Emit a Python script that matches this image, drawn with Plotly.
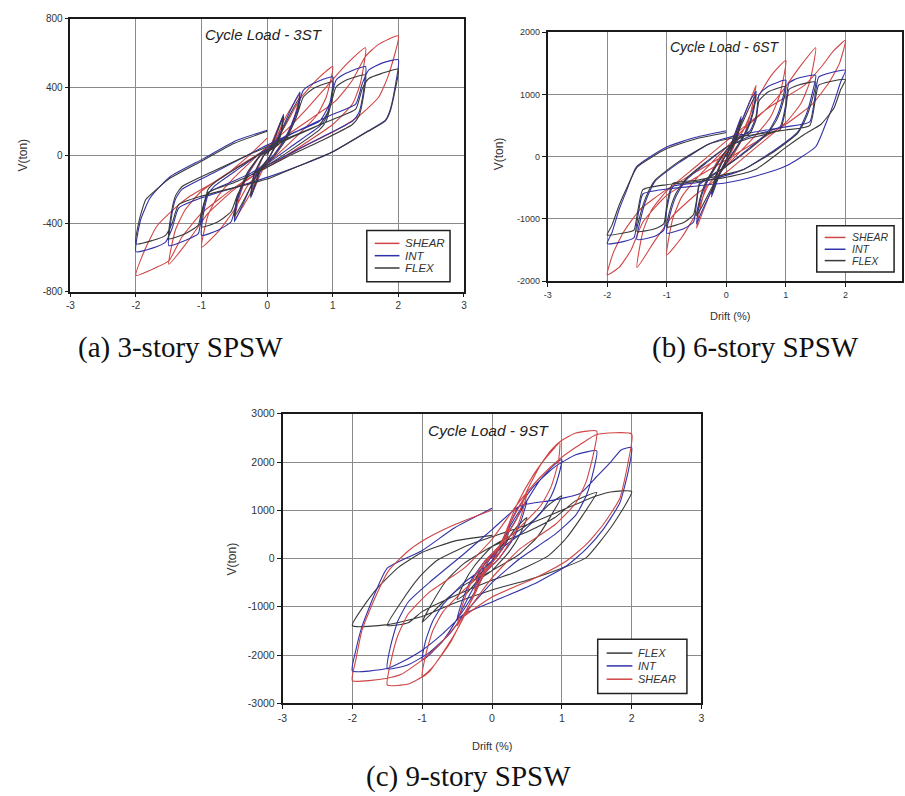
import plotly.graph_objects as go

# ---------------- data (drift %, V ton) ----------------
SHEAR_3ST = [(0,0),(0.1,100),(0.25,230),(0.18,120),(0.05,0),(-0.1,-110),(-0.25,-240),(-0.18,-120),(-0.05,0),
 (0.1,70),(0.25,200),(0.4,300),(0.5,360),(0.42,230),(0.3,120),(0.1,0),(-0.1,-90),(-0.25,-220),(-0.4,-320),(-0.5,-380),(-0.42,-240),(-0.3,-120),(-0.1,0),
 (0.1,70),(0.3,190),(0.5,330),(0.75,440),(1.0,520),(0.9,340),(0.75,230),(0.5,130),(0.2,20),(0,-50),(-0.3,-180),(-0.5,-320),(-0.75,-450),(-1.0,-540),(-0.9,-350),(-0.75,-240),(-0.5,-130),(-0.2,-20),(0,50),
 (0.3,150),(0.6,270),(0.9,400),(1.2,530),(1.5,630),(1.42,420),(1.3,300),(1.0,180),(0.5,50),(0,-70),(-0.5,-200),(-0.9,-340),(-1.2,-500),(-1.5,-640),(-1.4,-440),(-1.25,-320),(-1.0,-210),(-0.5,-80),(0,40),
 (0.5,170),(1.04,317),(1.3,440),(1.5,580),(1.7,650),(2.0,700),(1.85,470),(1.7,340),(1.4,230),(1.04,143),(0.54,47),(0,-70),(-0.5,-190),(-1.0,-340),(-1.3,-480),(-1.5,-620),(-1.7,-660),(-2.0,-705),
 (-1.86,-550),(-1.68,-415),(-1.43,-319),(-1.18,-241),(-0.67,-126),(-0.3,-10),(0,100)]
INT_3ST = [(0,0),(0.1,90),(0.25,240),(0.2,120),(0.05,0),(-0.1,-90),(-0.25,-250),(-0.2,-120),(-0.05,0),
 (0.1,60),(0.2,130),(0.35,260),(0.5,370),(0.45,250),(0.3,110),(0.1,0),(-0.1,-70),(-0.2,-140),(-0.35,-270),(-0.5,-390),(-0.45,-260),(-0.3,-110),(-0.1,0),
 (0.1,50),(0.3,120),(0.45,260),(0.55,380),(0.7,420),(1.0,460),(0.97,330),(0.9,220),(0.8,170),(0.4,60),(0,-50),(-0.3,-120),(-0.45,-250),(-0.55,-390),(-0.75,-440),(-1.0,-470),
 (-0.97,-340),(-0.9,-230),(-0.8,-180),(-0.4,-70),(0,40),
 (0.4,130),(0.8,200),(0.95,300),(1.05,440),(1.2,480),(1.5,520),(1.47,380),(1.4,250),(1.3,200),(0.8,100),(0.3,0),(0,-60),(-0.5,-150),(-0.9,-220),(-1.0,-350),(-1.05,-460),(-1.25,-500),(-1.5,-530),
 (-1.47,-390),(-1.4,-260),(-1.3,-200),(-0.8,-100),(-0.3,0),(0,60),
 (0.5,150),(1.0,240),(1.35,300),(1.45,420),(1.55,500),(1.75,540),(2.0,560),(1.95,400),(1.87,260),(1.8,205),(1.54,143),(0.99,18),(0.5,-60),(0,-130),(-0.5,-190),(-1.0,-250),(-1.35,-310),(-1.45,-430),(-1.55,-510),(-1.75,-545),(-2.0,-565),
 (-1.93,-380),(-1.8,-260),(-1.73,-222),(-1.48,-126),(-0.97,-20),(-0.47,86),(0,147)]
FLEX_3ST = [(0,0),(0.1,80),(0.25,230),(0.2,110),(0.05,0),(-0.1,-80),(-0.25,-240),(-0.2,-110),(-0.05,0),
 (0.1,50),(0.2,120),(0.35,240),(0.5,340),(0.45,230),(0.3,100),(0.1,-10),(-0.1,-80),(-0.2,-150),(-0.35,-260),(-0.5,-360),(-0.45,-240),(-0.3,-100),(-0.1,0),
 (0.1,40),(0.3,110),(0.45,230),(0.55,340),(0.7,390),(1.0,430),(0.97,300),(0.9,200),(0.8,150),(0.4,40),(0,-60),(-0.3,-130),(-0.45,-230),(-0.55,-330),(-0.75,-390),(-1.0,-420),
 (-0.97,-300),(-0.9,-200),(-0.8,-160),(-0.4,-60),(0,30),
 (0.4,110),(0.8,180),(0.95,270),(1.05,400),(1.2,440),(1.5,470),(1.47,350),(1.4,230),(1.3,180),(0.8,80),(0.3,-10),(0,-70),(-0.5,-160),(-0.9,-220),(-1.0,-330),(-1.05,-410),(-1.25,-460),(-1.5,-490),
 (-1.47,-360),(-1.4,-240),(-1.3,-185),(-0.8,-90),(-0.3,0),(0,50),
 (0.5,130),(1.0,210),(1.35,270),(1.45,390),(1.55,450),(1.75,480),(2.0,505),(1.95,380),(1.87,250),(1.8,200),(1.54,140),(1.0,20),(0.5,-60),(0,-140),(-0.5,-190),(-1.0,-240),(-1.35,-290),(-1.45,-400),(-1.55,-470),(-1.75,-500),(-2.0,-520),
 (-1.95,-380),(-1.85,-260),(-1.7,-205),(-1.5,-140),(-1.0,-35),(-0.5,70),(0,140)]

SHEAR_6ST = [(0,0),(0.1,250),(0.25,600),(0.18,300),(0.05,0),(-0.1,-250),(-0.25,-600),(-0.18,-300),(-0.05,0),
 (0.1,200),(0.25,550),(0.4,900),(0.5,1150),(0.42,750),(0.3,350),(0.1,0),(-0.1,-250),(-0.25,-550),(-0.4,-900),(-0.5,-1150),(-0.42,-750),(-0.3,-350),(-0.1,0),
 (0.1,150),(0.3,450),(0.5,900),(0.75,1300),(1.0,1550),(0.9,1000),(0.75,650),(0.5,350),(0.2,50),(0,-150),(-0.3,-450),(-0.5,-900),(-0.75,-1300),(-1.0,-1580),(-0.9,-1000),(-0.75,-650),(-0.5,-350),(-0.2,-50),(0,150),
 (0.3,450),(0.6,700),(0.9,1000),(1.2,1400),(1.5,1750),(1.4,1200),(1.25,850),(1.0,550),(0.5,150),(0,-250),(-0.5,-600),(-0.9,-950),(-1.2,-1350),(-1.5,-1780),(-1.4,-1200),(-1.25,-850),(-1.0,-550),(-0.5,-150),(0,250),
 (0.71,787),(1.32,1156),(1.6,1450),(1.8,1700),(2.0,1870),(1.9,1500),(1.73,1200),(1.45,850),(1.01,530),(0.46,217),(0,-50),(-0.5,-330),(-1.0,-620),(-1.4,-1050),(-1.6,-1500),(-1.8,-1780),(-2.0,-1900),
 (-1.9,-1550),(-1.73,-1219),(-1.45,-850),(-1.01,-534),(-0.46,-217),(0,40)]
INT_6ST = [(0,0),(0.1,250),(0.25,650),(0.18,350),(0.05,50),(-0.1,-250),(-0.25,-650),(-0.18,-350),(-0.05,-50),
 (0.1,200),(0.25,550),(0.4,900),(0.5,1050),(0.45,750),(0.35,450),(0.2,200),(0,-100),(-0.15,-350),(-0.3,-650),(-0.42,-900),(-0.5,-1080),(-0.45,-750),(-0.35,-450),(-0.2,-200),(0,100),
 (0.2,300),(0.4,420),(0.5,650),(0.55,1000),(0.7,1130),(1.0,1230),(0.95,950),(0.85,650),(0.7,400),(0.4,150),(0,-150),(-0.3,-350),(-0.45,-450),(-0.5,-750),(-0.55,-1050),(-0.7,-1150),(-1.0,-1230),
 (-0.95,-950),(-0.85,-650),(-0.7,-400),(-0.4,-150),(0,150),(0.4,330),
 (0.9,480),(1.0,850),(1.05,1180),(1.2,1260),(1.5,1310),(1.45,1050),(1.35,700),(1.2,400),(0.8,100),(0.3,-200),(0,-300),(-0.5,-420),(-0.9,-480),(-1.0,-850),(-1.05,-1180),(-1.2,-1280),(-1.5,-1330),
 (-1.45,-1050),(-1.35,-700),(-1.2,-400),(-0.8,-100),(-0.3,200),(0,300),(0.5,400),(1.0,480),(1.4,560),
 (1.5,1050),(1.55,1280),(1.75,1350),(2.0,1390),(1.92,1200),(1.8,850),(1.67,530),(1.5,160),(1.0,-150),(0.5,-310),(0,-420),(-0.5,-470),(-1.0,-520),(-1.4,-600),(-1.5,-1050),(-1.55,-1300),(-1.75,-1370),(-2.0,-1400),
 (-1.92,-1219),(-1.8,-850),(-1.67,-533),(-1.51,-163),(-1.01,153),(-0.51,312),(0,417)]
FLEX_6ST = [(0,0),(0.1,230),(0.25,600),(0.18,320),(0.05,40),(-0.1,-230),(-0.25,-600),(-0.18,-320),(-0.05,-40),
 (0.1,180),(0.25,500),(0.4,820),(0.5,1000),(0.45,700),(0.35,420),(0.2,180),(0,-100),(-0.15,-330),(-0.3,-600),(-0.42,-820),(-0.5,-950),(-0.45,-700),(-0.35,-420),(-0.2,-180),(0,100),
 (0.2,280),(0.4,380),(0.5,600),(0.55,900),(0.7,1040),(1.0,1130),(0.95,870),(0.85,600),(0.7,380),(0.4,130),(0,-150),(-0.3,-330),(-0.45,-420),(-0.5,-700),(-0.55,-930),(-0.7,-1050),(-1.0,-1130),
 (-0.95,-870),(-0.85,-600),(-0.7,-380),(-0.4,-130),(0,150),(0.4,300),
 (0.9,430),(1.0,780),(1.05,1080),(1.2,1150),(1.5,1200),(1.45,950),(1.35,650),(1.2,380),(0.8,80),(0.3,-200),(0,-280),(-0.5,-380),(-0.9,-430),(-1.0,-780),(-1.05,-1080),(-1.2,-1160),(-1.5,-1200),
 (-1.45,-950),(-1.35,-650),(-1.2,-380),(-0.8,-80),(-0.3,200),(0,280),(0.5,360),(1.0,430),(1.4,500),
 (1.5,950),(1.55,1150),(1.75,1210),(2.0,1240),(1.92,1080),(1.81,787),(1.59,522),(1.32,364),(1.0,150),(0.5,-200),(0,-330),(-0.5,-400),(-1.0,-450),(-1.4,-530),(-1.5,-950),(-1.55,-1180),(-1.75,-1230),(-2.0,-1260),
 (-1.92,-1100),(-1.8,-780),(-1.67,-500),(-1.5,-170),(-1.0,130),(-0.5,290),(0,390)]

FLEX_9ST = [(0,0),(0.1,200),(0.25,450),(0.15,200),(0,-50),(-0.1,-200),(-0.25,-450),(-0.15,-200),(0,50),
 (0.2,350),(0.35,650),(0.5,850),(0.4,500),(0.25,150),(0,-250),(-0.2,-450),(-0.35,-700),(-0.5,-850),(-0.4,-500),(-0.25,-150),(0,250),
 (0.3,500),(0.6,800),(0.8,1100),(1.0,1300),(0.85,900),(0.65,450),(0.4,100),(0,-250),(-0.4,-550),(-0.7,-900),(-1.0,-1320),(-0.85,-900),(-0.65,-450),(-0.4,-100),(0,250),
 (0.5,550),(0.9,850),(1.2,1200),(1.5,1370),(1.3,900),(1.05,400),(0.8,50),(0.3,-300),(0,-450),(-0.5,-750),(-1.0,-1100),(-1.2,-1330),(-1.5,-1385),(-1.3,-900),(-1.05,-400),(-0.8,-50),(-0.3,300),(0,450),
 (0.5,700),(1.0,1000),(1.5,1300),(1.7,1380),(2.0,1390),(1.73,700),(1.35,20),(1.0,-200),(0.5,-450),(0,-650),(-0.5,-900),(-1.0,-1200),(-1.5,-1370),(-2.0,-1390),
 (-1.67,-660),(-1.34,-184),(-1.01,120),(-0.54,361),(0,480)]
INT_9ST = [(0,0),(0.1,250),(0.25,600),(0.18,300),(0.05,0),(-0.1,-250),(-0.25,-600),(-0.18,-300),(-0.05,0),
 (0.1,250),(0.25,650),(0.4,1000),(0.5,1200),(0.42,800),(0.3,400),(0.1,0),(-0.1,-300),(-0.25,-700),(-0.4,-1050),(-0.5,-1250),(-0.42,-850),(-0.3,-450),(-0.1,-50),(0.1,250),
 (0.3,700),(0.5,1200),(0.7,1650),(0.9,1950),(1.0,2050),(0.95,1700),(0.85,1300),(0.7,950),(0.4,500),(0,50),(-0.3,-700),(-0.5,-1250),(-0.7,-1700),(-0.9,-2000),(-1.0,-2100),(-0.95,-1700),(-0.85,-1300),(-0.7,-950),(-0.4,-500),(0,-50),
 (0.35,1000),(0.6,1500),(0.9,1900),(1.2,2150),(1.5,2230),(1.45,1800),(1.35,1300),(1.2,900),(0.9,500),(0.4,0),(0,-500),(-0.4,-1150),(-0.6,-1550),(-0.9,-1950),(-1.2,-2200),(-1.5,-2280),(-1.45,-1800),(-1.35,-1300),(-1.2,-900),(-0.9,-500),(-0.4,100),(0,600),
 (0.4,1090),(0.88,1210),(1.26,1347),(1.5,1700),(1.7,2000),(1.85,2250),(2.0,2300),(1.95,1800),(1.83,1150),(1.59,600),(1.35,200),(1.07,-150),(0.64,-500),(0,-900),(-0.4,-1150),(-0.7,-1550),(-1.0,-1900),(-1.3,-2150),(-1.5,-2280),(-2.0,-2330),
 (-1.95,-1900),(-1.86,-1400),(-1.67,-700),(-1.5,-200),(-1.01,157),(-0.54,633),(0,1041)]
SHEAR_9ST = [(0,0),(0.1,250),(0.25,650),(0.18,300),(0.05,0),(-0.1,-250),(-0.25,-650),(-0.18,-300),(-0.05,0),
 (0.1,250),(0.25,700),(0.4,1100),(0.5,1350),(0.42,900),(0.3,450),(0.1,0),(-0.1,-300),(-0.25,-750),(-0.4,-1150),(-0.5,-1400),(-0.42,-950),(-0.3,-500),(-0.1,-50),(0.1,250),
 (0.36,837),(0.5,1400),(0.7,1950),(0.9,2300),(0.97,2402),(0.95,2000),(0.85,1500),(0.7,1100),(0.4,650),(0,100),(-0.4,-1200),(-0.55,-1600),(-0.75,-2050),(-0.9,-2350),(-1.0,-2450),(-0.95,-2000),(-0.85,-1500),(-0.7,-1100),(-0.4,-650),(0,-100),
 (0.35,1100),(0.6,1750),(0.85,2250),(1.0,2450),(1.2,2600),(1.5,2640),(1.45,2150),(1.35,1600),(1.2,1150),(0.9,700),(0.4,200),(0,-400),(-0.4,-1200),(-0.6,-1750),(-0.85,-2250),(-1.0,-2450),(-1.2,-2600),(-1.5,-2620),(-1.45,-2150),(-1.35,-1600),(-1.2,-1150),(-0.9,-700),(-0.4,-200),(0,400),
 (0.35,1100),(0.7,1700),(1.0,2100),(1.3,2400),(1.5,2570),(2.0,2580),(1.95,2000),(1.83,1245),(1.59,700),(1.35,292),(1.07,-47),(0.64,-388),(0,-796),(-0.4,-1200),(-0.7,-1700),(-1.0,-2100),(-1.3,-2400),(-1.5,-2480),(-2.0,-2530),
 (-1.95,-2100),(-1.86,-1476),(-1.67,-796),(-1.48,-251),(-1.2,157),(-0.92,429),(-0.54,700),(0,1006)]

X_TICKS = [-3, -2, -1, 0, 1, 2, 3]
Y_TICKS_3ST = [-800, -400, 0, 400, 800]
Y_TICKS_6ST = [-2000, -1000, 0, 1000, 2000]
Y_TICKS_9ST = [-3000, -2000, -1000, 0, 1000, 2000, 3000]

PANEL_TITLES = ["Cycle Load - 3ST", "Cycle Load - 6ST", "Cycle Load - 9ST"]
CAPTIONS = ["(a) 3-story SPSW", "(b) 6-story SPSW", "(c) 9-story SPSW"]

# ---------------- layout helpers ----------------
W, H = 905, 796
def fx(px): return px / W
def fy(py): return 1 - py / H

COLORS = {"SHEAR": "#d04545", "INT": "#3232a8", "FLEX": "#3a3a3a"}
SANS = "Liberation Sans, Arial, sans-serif"

panels = [
    dict(series=[("SHEAR", SHEAR_3ST), ("INT", INT_3ST), ("FLEX", FLEX_3ST)],
         box=(66, 13, 463, 290), xr=[-3, 3], yr=[-800, 800], yt=Y_TICKS_3ST, tfs=10,
         title=(261, 29, 15), ylab=(18, 151), xlab=None,
         leg=(365, 228, 449, 280, 373, 398, [241, 253.5, 266], 403, 11.5)),
    dict(series=[("SHEAR", SHEAR_6ST), ("INT", INT_6ST), ("FLEX", FLEX_6ST)],
         box=(547.5, 26.7, 905, 279.3), xr=[-3, 2.95], yr=[-2000, 2000], yt=Y_TICKS_6ST, tfs=9,
         title=(726, 42, 14), ylab=(498, 150), xlab=(731, 315),
         leg=(819, 223, 897, 270, 827, 848, [235, 247, 258.5], 854, 10.5)),
    dict(series=[("FLEX", FLEX_9ST), ("INT", INT_9ST), ("SHEAR", SHEAR_9ST)],
         box=(280, 414, 702.7, 708), xr=[-3, 3], yr=[-3000, 3000], yt=Y_TICKS_9ST, tfs=10.5,
         title=(488, 431, 15.5), ylab=(229, 561), xlab=(491, 751),
         leg=(598, 643, 688, 698, 607, 633, [657, 670, 683.5], 638, 11)),
]

fig = go.Figure()
shapes, annotations = [], []
for i, p in enumerate(panels):
    n = "" if i == 0 else str(i + 1)
    xa, ya = "x" + n, "y" + n
    x0, y0, x1, y1 = p["box"]
    for name, pts in p["series"]:
        fig.add_trace(go.Scatter(x=[q[0] for q in pts], y=[q[1] for q in pts], mode="lines",
                                 name=name, showlegend=False, xaxis=xa, yaxis=ya,
                                 line=dict(color=COLORS[name], width=1.1, shape="spline", smoothing=0.5)))
    common = dict(showline=True, mirror=True, linecolor="#1a1a1a", linewidth=1.5,
                  showgrid=True, gridcolor="#8a8a8a", gridwidth=1, zeroline=False,
                  ticks="outside", ticklen=4, tickcolor="#1a1a1a", tickwidth=1,
                  tickfont=dict(family=SANS, size=p["tfs"], color="#333"), fixedrange=True)
    fig.layout["xaxis" + n] = dict(domain=[fx(x0), fx(x1)], range=p["xr"], anchor=ya,
                                   tickvals=X_TICKS, ticktext=[str(v) for v in X_TICKS], **common)
    fig.layout["yaxis" + n] = dict(domain=[fy(y1), fy(y0)], range=p["yr"], anchor=xa,
                                   tickvals=p["yt"], ticktext=[str(v) for v in p["yt"]], **common)
    tx, ty, ts = p["title"]
    annotations.append(dict(x=fx(tx), y=fy(ty), xref="paper", yref="paper", text="<i>%s</i>" % PANEL_TITLES[i],
                            showarrow=False, font=dict(family=SANS, size=ts, color="#222"),
                            xanchor="center", yanchor="middle"))
    lx, ly = p["ylab"]
    annotations.append(dict(x=fx(lx), y=fy(ly), xref="paper", yref="paper", text="V(ton)", textangle=-90,
                            showarrow=False, font=dict(family=SANS, size=12, color="#333"),
                            xanchor="center", yanchor="middle"))
    if p["xlab"]:
        dx, dy = p["xlab"]
        annotations.append(dict(x=fx(dx), y=fy(dy), xref="paper", yref="paper", text="Drift (%)",
                                showarrow=False, font=dict(family=SANS, size=11, color="#333"),
                                xanchor="center", yanchor="middle"))
    # legend box drawn as shapes + text
    bx0, by0, bx1, by1, lx0, lx1, lys, txx, lfs = p["leg"]
    shapes.append(dict(type="rect", xref="paper", yref="paper", x0=fx(bx0), x1=fx(bx1), y0=fy(by1), y1=fy(by0),
                       line=dict(color="#222", width=1.5), fillcolor="white", layer="above"))
    for (name, _), yy in zip(p["series"], lys):
        shapes.append(dict(type="line", xref="paper", yref="paper", x0=fx(lx0), x1=fx(lx1), y0=fy(yy), y1=fy(yy),
                           line=dict(color=COLORS[name], width=1.5), layer="above"))
        annotations.append(dict(x=fx(txx), y=fy(yy), xref="paper", yref="paper", text="<i>%s</i>" % name,
                                showarrow=False, font=dict(family=SANS, size=lfs, color="#333"),
                                xanchor="left", yanchor="middle", borderpad=0))

for cap, (cx, cy) in zip(CAPTIONS, [(177.5, 347), (757, 347), (468, 782)]):
    annotations.append(dict(x=fx(cx), y=fy(cy), xref="paper", yref="paper", text=cap, showarrow=False,
                            font=dict(family="Liberation Serif, Times New Roman, serif", size=29, color="#111"),
                            xanchor="center", yanchor="middle"))

fig.update_layout(width=W, height=H, margin=dict(l=0, r=0, t=0, b=0), paper_bgcolor="white",
                  plot_bgcolor="white", showlegend=False, shapes=shapes, annotations=annotations)
fig.write_html("out.html")
